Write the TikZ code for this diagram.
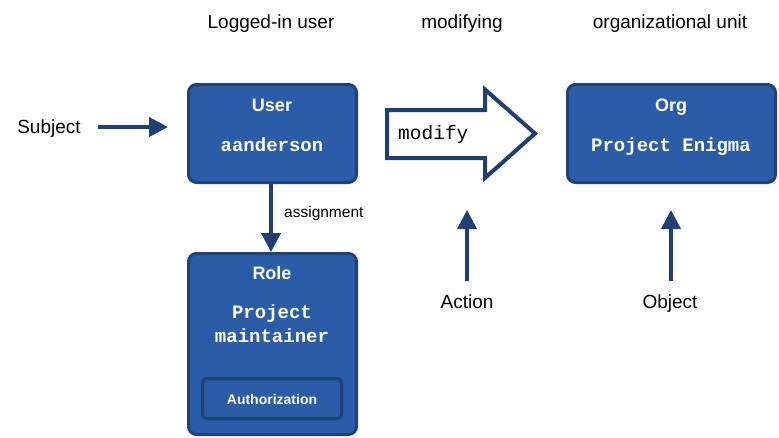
\documentclass[tikz,border=0pt]{standalone}
\usepackage{fontspec}
\setmainfont{Liberation Sans}
\setmonofont{Liberation Mono}
\usetikzlibrary{arrows.meta}
\definecolor{boxfill}{HTML}{2A5CA7}
\definecolor{boxline}{HTML}{1F4279}
\definecolor{arrcol}{HTML}{1F3F75}
\tikzset{
  bluebox/.style={draw=boxline, fill=boxfill, line width=3pt, rounded corners=8pt, inner sep=0pt},
  innerbox/.style={draw=boxline, fill=boxfill, line width=3pt, rounded corners=4pt, inner sep=0pt},
  conn/.style={draw=arrcol, line width=4pt, -{Triangle[length=19pt,width=19pt]}},
  lbl/.style={anchor=base, inner sep=0pt, font=\fontsize{19}{22}\selectfont},
  title/.style={anchor=base, inner sep=0pt, text=white, font=\fontsize{18}{21}\selectfont\bfseries},
  code/.style={anchor=base, inner sep=0pt, text=white, font=\fontsize{19}{22}\selectfont\ttfamily\bfseries},
}
\begin{document}
\begin{tikzpicture}[x=1pt,y=-1pt]
\useasboundingbox (0,0) rectangle (779,437);
% headers
\node[lbl] (h1) at (271,28) {Logged-in user};
\node[lbl] (h2) at (462,28) {modifying};
\node[lbl] (h3) at (670,28) {organizational unit};
% boxes
\node[bluebox, minimum width=168pt, minimum height=98pt] (user) at (272.5,133.5) {};
\node[bluebox, minimum width=168pt, minimum height=181pt] (role) at (272.5,344) {};
\node[bluebox, minimum width=208pt, minimum height=98pt] (org) at (671.5,133.5) {};
\node[innerbox, minimum width=139pt, minimum height=40pt] (auth) at (272,398.5) {};
% box texts
\node[title] (usert) at (272,111) {User};
\node[code] (usern) at (272,151) {aanderson};
\node[title] (orgt) at (671,111) {Org};
\node[code] (orgn) at (671,151) {Project Enigma};
\node[title] (rolet) at (272,279) {Role};
\node[code] (rolen1) at (272,318) {Project};
\node[code] (rolen2) at (272,342) {maintainer};
\node[anchor=base, inner sep=0pt, text=white, font=\fontsize{14}{17}\selectfont\bfseries] (autht) at (272,404) {Authorization};
% big arrow
\draw[draw=arrcol, fill=white, line width=4pt, line join=miter]
  (387,110) -- (485,110) -- (485,89.5) -- (535,133.5) -- (485,178) -- (485,158) -- (387,158) -- cycle;
\node[anchor=base west, inner sep=0pt, font=\fontsize{19.5}{22}\selectfont\ttfamily] (mod) at (398,139) {modify};
% subject
\node[lbl] (subj) at (49,133) {Subject};
\coordinate (s0) at (98,127);
\coordinate (s1) at (168,127);
\draw[conn] (s0) -- (s1);
% assignment
\coordinate (g0) at (271,184);
\coordinate (g1) at (271,252);
\draw[conn] (g0) -- (g1);
\node[anchor=base west, inner sep=0pt, font=\fontsize{15.5}{18}\selectfont] (asg) at (284,217) {assignment};
% action
\node[lbl] (act) at (467,308) {Action};
\coordinate (a0) at (467,281);
\coordinate (a1) at (467,210);
\draw[conn] (a0) -- (a1);
% object
\node[lbl] (obj) at (670,308) {Object};
\coordinate (o0) at (671,281);
\coordinate (o1) at (671,210);
\draw[conn] (o0) -- (o1);
\end{tikzpicture}
\end{document}
